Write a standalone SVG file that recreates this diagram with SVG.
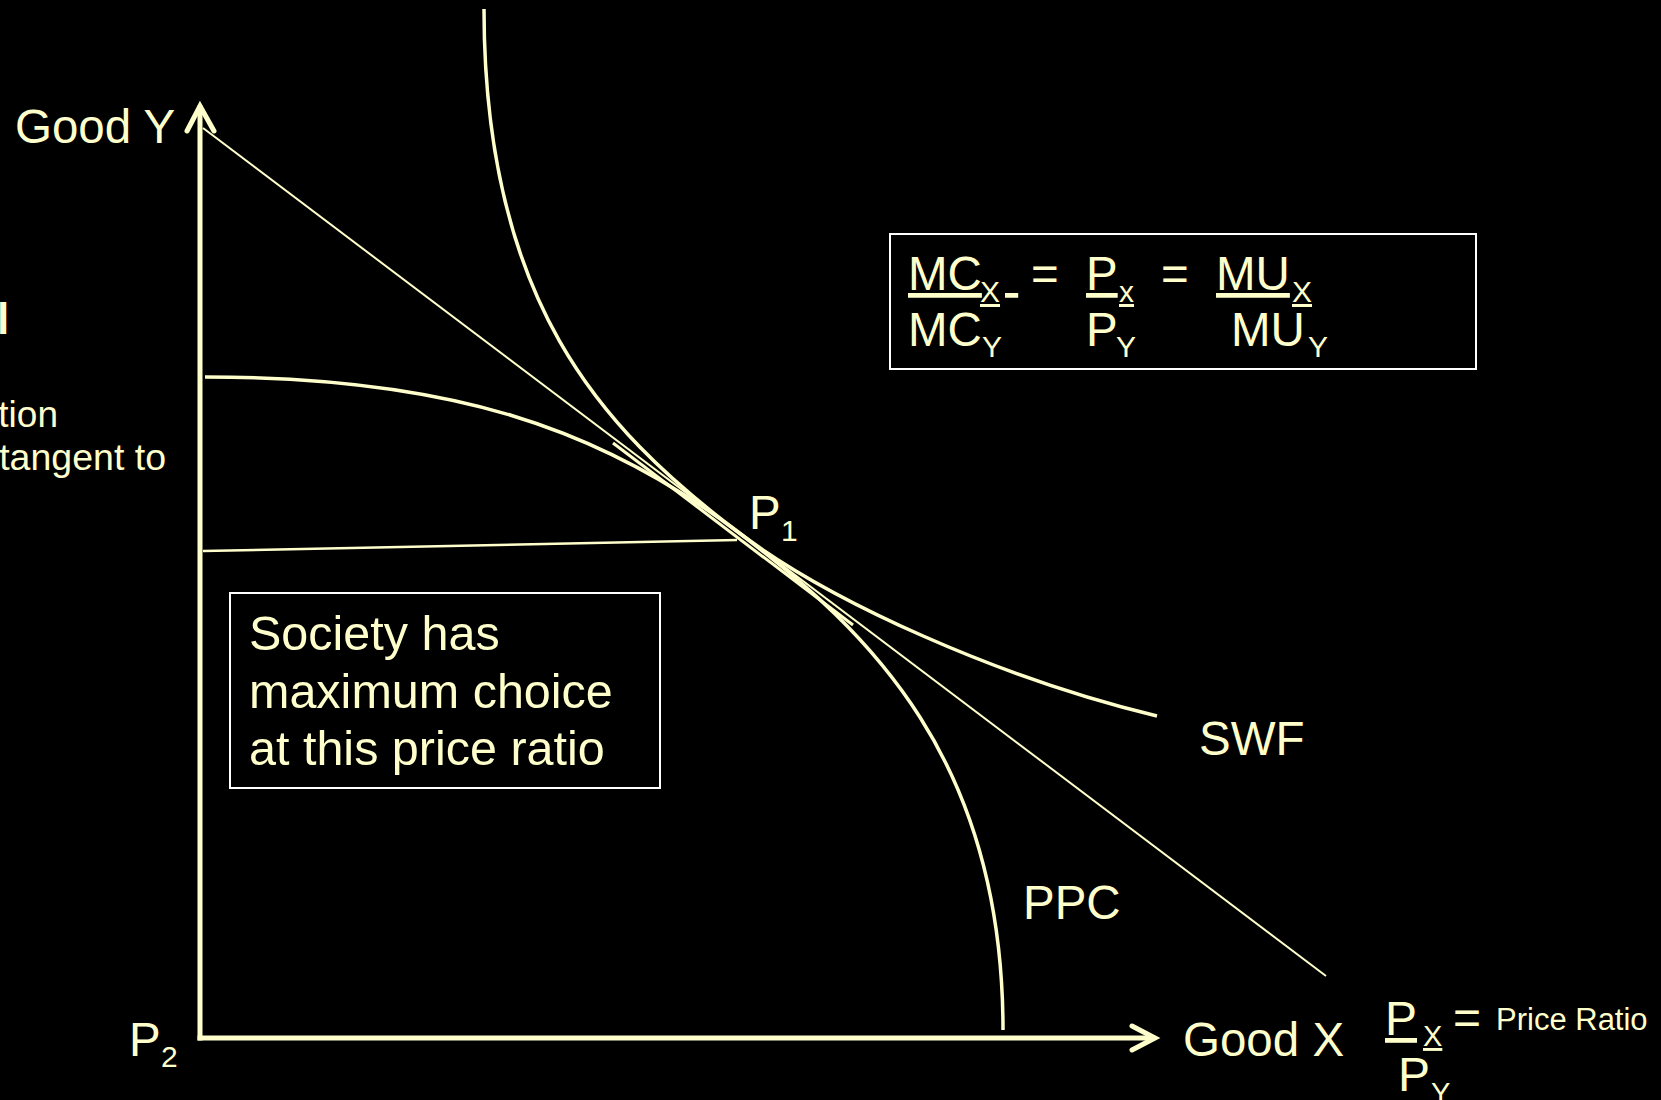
<svg xmlns="http://www.w3.org/2000/svg" width="1661" height="1100" viewBox="0 0 1661 1100">
<style>
text{font-family:"Liberation Sans",Arial,sans-serif;fill:#FFFFCC}
.big{font-size:47.5px}
.sub{font-size:30px}
.u{text-decoration:underline}
.axis{stroke:#FFFFCC;stroke-width:5;fill:none;stroke-linecap:square}
.head{stroke:#FFFFCC;stroke-width:5;fill:none;stroke-linecap:round;stroke-linejoin:miter}
.curve{stroke:#FFFFCC;stroke-width:3.5;fill:none}
.thin{stroke:#FFFFCC;stroke-width:2;fill:none}
.box{stroke:#FFFFFF;stroke-width:2;fill:#000}
</style>
<rect width="1661" height="1100" fill="#000"/>

<g id="side-text">
<text x="-3" y="334" style="font-size:44px;font-weight:bold">l</text>
<text x="58" y="427" style="font-size:37px" text-anchor="end">tion</text>
<text x="166" y="470" style="font-size:37.5px" text-anchor="end">tangent to</text>
</g>

<g id="connectors">
<line class="axis" x1="200" y1="1038" x2="200" y2="108"/>
<polyline class="head" points="187,131 200,106 214,131"/>
<line class="axis" x1="200" y1="1038" x2="1150" y2="1038"/>
<polyline class="head" points="1132,1026 1155,1038 1132,1050"/>
<line id="price-line" class="thin" x1="203" y1="128" x2="1326" y2="976"/>
<line id="price-line-short" class="curve" x1="613" y1="443" x2="853" y2="625" style="stroke-width:3"/>
<line id="p1-level" class="thin" x1="203" y1="551" x2="737" y2="540" style="stroke-width:2.5"/>
<path id="ppc" class="curve" d="M205,377 C450,377 600,428 738,532 C870,632 1003,760 1003,1030"/>
<path id="swf" class="curve" d="M484,9 C484,300 600,428 738,532 C830,602 1000,678 1157,716"/>
</g>

<g id="label-good-y"><text class="big" x="15" y="143">Good Y</text></g>
<g id="label-good-x"><text class="big" x="1183" y="1056">Good X</text></g>
<g id="label-p1"><text class="big" x="749" y="529">P</text><text class="sub" x="781" y="541">1</text></g>
<g id="label-p2"><text class="big" x="129" y="1056">P</text><text class="sub" x="161" y="1067">2</text></g>
<g id="label-swf"><text class="big" x="1199" y="755">SWF</text></g>
<g id="label-ppc"><text class="big" x="1023" y="919">PPC</text></g>

<g id="formula-box">
<rect class="box" x="890" y="234" width="586" height="135"/>
<text class="big u" x="908" y="290">MC</text>
<text class="sub u" x="980" y="302">X</text>
<text class="big u" x="1005" y="290">&#160;</text>
<text class="big" x="1031" y="290">=</text>
<text class="big u" x="1086" y="290">P</text>
<text class="sub u" x="1119" y="302">x</text>
<text class="big" x="1161" y="290">=</text>
<text class="big u" x="1216" y="290">MU</text>
<text class="sub u" x="1292" y="302">X</text>
<text class="big" x="908" y="346">MC</text>
<text class="sub" x="982" y="357">Y</text>
<text class="big" x="1086" y="346">P</text>
<text class="sub" x="1116" y="357">Y</text>
<text class="big" x="1231" y="346">MU</text>
<text class="sub" x="1308" y="357">Y</text>
</g>

<g id="society-box">
<rect class="box" x="230" y="593" width="430" height="195"/>
<text x="249" y="650" style="font-size:48.5px">Society has</text>
<text x="249" y="708" style="font-size:48.5px">maximum choice</text>
<text x="249" y="765" style="font-size:48.5px">at this price ratio</text>
</g>

<g id="price-ratio">
<text class="u" x="1385" y="1035" style="font-size:48px">P</text>
<text class="u" x="1423" y="1046" style="font-size:29px">X</text>
<text x="1453" y="1034" style="font-size:48px">=</text>
<text x="1496" y="1030" style="font-size:31px">Price Ratio</text>
<text x="1398" y="1091" style="font-size:48px">P</text>
<text x="1431" y="1103" style="font-size:29px">Y</text>
</g>
</svg>
